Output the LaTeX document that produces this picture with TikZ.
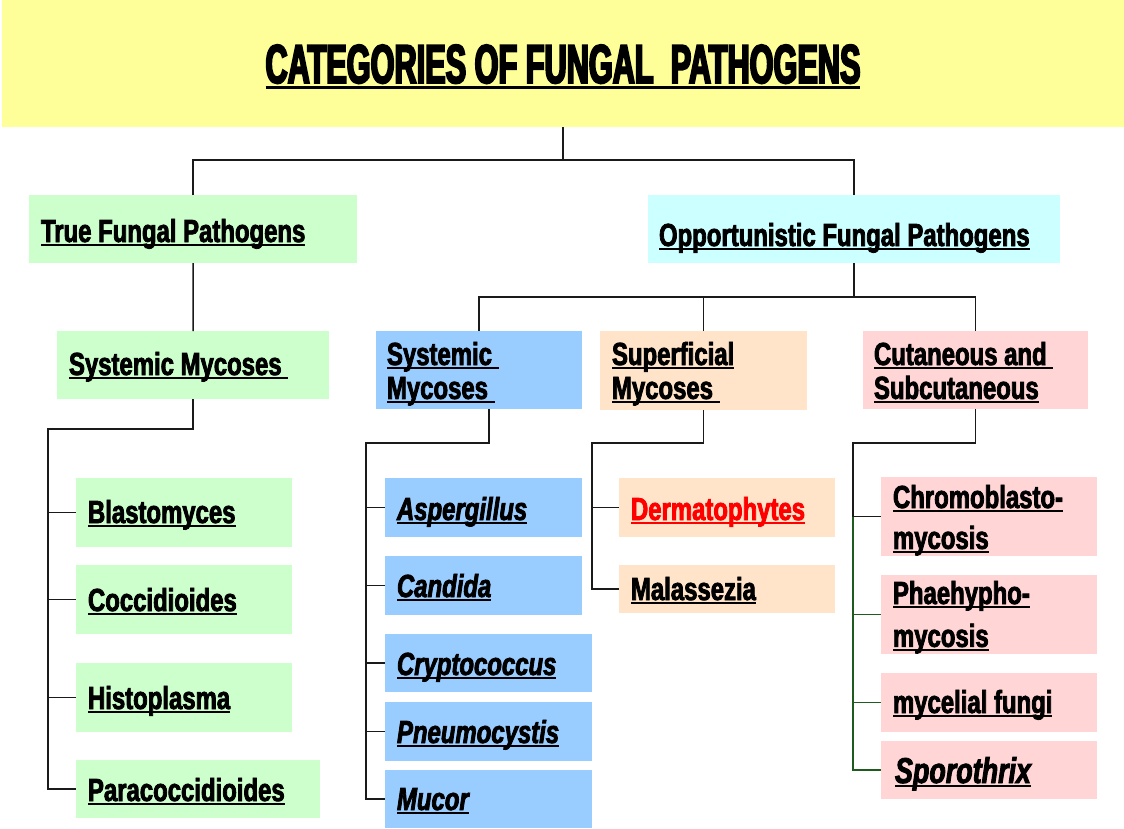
\documentclass[tikz,border=0pt]{standalone}
\usepackage{fontspec}
\newfontfamily\bodyf{Liberation Sans Bold}[FakeStretch=0.75, FakeBold=2.5, ItalicFont={Liberation Sans Bold Italic}]
\newfontfamily\titlef{Liberation Sans Bold}[FakeStretch=0.56, FakeBold=3.5]

\definecolor{titleyellow}{HTML}{FFFF99}
\definecolor{palegreen}{HTML}{CCFFCC}
\definecolor{palecyan}{HTML}{CCFFFF}
\definecolor{skyblue}{HTML}{99CCFF}
\definecolor{peach}{HTML}{FFE4C9}
\definecolor{rosepink}{HTML}{FFD5D5}
\definecolor{linegray}{HTML}{1A1A1A}
\definecolor{treegreen}{HTML}{1F5A1F}
\definecolor{alertred}{HTML}{FF0000}

% underlined text: rule under the whole box, trailing spaces included
\newcommand\ulin[1]{\setbox0=\hbox{\spaceskip=0pt\xspaceskip=0pt #1}\leavevmode\rlap{\rule[-4.2bp]{\wd0}{2bp}}\box0}
\newcommand\ulinT[1]{\setbox0=\hbox{\spaceskip=0pt\xspaceskip=0pt #1}\leavevmode\rlap{\rule[-5.8bp]{\wd0}{2.8bp}}\box0}

\begin{document}
\begin{tikzpicture}[x=1bp,y=-1bp,
  conn/.style={line width=1.5bp, draw=linegray},
  gconn/.style={line width=1.5bp, draw=treegreen},
  cell/.style={rectangle, inner sep=0pt, outer sep=0pt, anchor=north west, draw=none},
  txt/.style={inner sep=0pt, outer sep=0pt, anchor=base west, font=\bodyf\fontsize{32}{34}\selectfont},
  txtml/.style={txt, text width=230bp, align=left},
]
\useasboundingbox (0,0) rectangle (1124,829);

% title band
\node[cell, fill=titleyellow, minimum width=1122bp, minimum height=127bp] (title) at (2,0) {};
\node[inner sep=0pt, anchor=base, font=\titlef\fontsize{55}{60}\selectfont] (title-t) at (563,83)
  {\ulinT{CATEGORIES OF FUNGAL\ \ PATHOGENS}};

% first level
\node[cell, fill=palegreen, minimum width=328bp, minimum height=68bp] (tfp) at (29,195) {};
\node[txt] (tfp-t) at (41,242) {\ulin{True Fungal Pathogens}};
\node[cell, fill=palecyan, minimum width=412bp, minimum height=68bp] (ofp) at (648,195) {};
\node[txt] (ofp-t) at (659,246) {\ulin{Opportunistic Fungal Pathogens}};

% second level
\node[cell, fill=palegreen, minimum width=272bp, minimum height=68bp] (lsm) at (57,331) {};
\node[txt] (lsm-t) at (69,375) {\ulin{Systemic Mycoses\ }};
\node[cell, fill=skyblue, minimum width=206bp, minimum height=78bp] (bsm) at (376,331) {};
\node[txtml] (bsm-t) at (387,365) {\ulin{Systemic\ }\\\ulin{Mycoses\ }};
\node[cell, fill=peach, minimum width=207bp, minimum height=79bp] (sup) at (600,331) {};
\node[txtml] (sup-t) at (612,365) {\ulin{Superficial}\\\ulin{Mycoses\ }};
\node[cell, fill=rosepink, minimum width=225bp, minimum height=78bp] (cut) at (863,331) {};
\node[txtml] (cut-t) at (874,365) {\ulin{Cutaneous and\ }\\\ulin{Subcutaneous}};

% true pathogens
\node[cell, fill=palegreen, minimum width=216bp, minimum height=69bp] (blasto) at (76,478) {};
\node[txt] (blasto-t) at (88,523) {\ulin{Blastomyces}};
\node[cell, fill=palegreen, minimum width=216bp, minimum height=69bp] (cocci) at (76,565) {};
\node[txt] (cocci-t) at (88,611) {\ulin{Coccidioides}};
\node[cell, fill=palegreen, minimum width=216bp, minimum height=69bp] (histo) at (76,663) {};
\node[txt] (histo-t) at (88,709) {\ulin{Histoplasma}};
\node[cell, fill=palegreen, minimum width=244bp, minimum height=58bp] (para) at (76,760) {};
\node[txt] (para-t) at (88,801) {\ulin{Paracoccidioides}};

% opportunistic systemic
\node[cell, fill=skyblue, minimum width=197bp, minimum height=59bp] (asp) at (385,478) {};
\node[txt] (asp-t) at (397,520) {\ulin{\itshape Aspergillus}};
\node[cell, fill=skyblue, minimum width=197bp, minimum height=59bp] (cand) at (385,556) {};
\node[txt] (cand-t) at (397,597) {\ulin{\itshape Candida}};
\node[cell, fill=skyblue, minimum width=207bp, minimum height=58bp] (crypto) at (385,634) {};
\node[txt] (crypto-t) at (397,675) {\ulin{\itshape Cryptococcus}};
\node[cell, fill=skyblue, minimum width=207bp, minimum height=59bp] (pneumo) at (385,702) {};
\node[txt] (pneumo-t) at (397,743) {\ulin{\itshape Pneumocystis}};
\node[cell, fill=skyblue, minimum width=207bp, minimum height=58bp] (mucor) at (385,770) {};
\node[txt] (mucor-t) at (397,810) {\ulin{\itshape Mucor}};

% superficial
\node[cell, fill=peach, minimum width=216bp, minimum height=59bp] (derm) at (619,478) {};
\node[txt, text=alertred] (derm-t) at (631,520) {\ulin{Dermatophytes}};
\node[cell, fill=peach, minimum width=216bp, minimum height=48bp] (mal) at (619,565) {};
\node[txt] (mal-t) at (631,600) {\ulin{Malassezia}};

% cutaneous and subcutaneous
\node[cell, fill=rosepink, minimum width=216bp, minimum height=79bp] (chromo) at (881,477) {};
\node[txtml, font=\bodyf\fontsize{32}{41}\selectfont] (chromo-t) at (893,508) {\ulin{Chromoblasto-}\\\ulin{mycosis}};
\node[cell, fill=rosepink, minimum width=216bp, minimum height=79bp] (phaeo) at (881,575) {};
\node[txtml, font=\bodyf\fontsize{32}{43}\selectfont] (phaeo-t) at (893,604) {\ulin{Phaehypho-}\\\ulin{mycosis}};
\node[cell, fill=rosepink, minimum width=216bp, minimum height=59bp] (myc) at (881,673) {};
\node[txt] (myc-t) at (893,713) {\ulin{mycelial fungi}};
\node[cell, fill=rosepink, minimum width=216bp, minimum height=58bp] (sporo) at (881,741) {};
\node[txt, font=\bodyf\fontsize{36}{40}\selectfont] (sporo-t) at (895,783) {\ulin{\itshape Sporothrix}};

% connectors: top split
\draw[conn] (title.south) -- ++(0,33) coordinate (j0);
\draw[conn] (tfp.north) |- (j0) -| (ofp.north);
\draw[conn] (tfp.south) -- (lsm.north);

% true pathogens trunk
\coordinate (lt) at (48,429);
\draw[conn] (lsm.south) |- (lt) -- (lt |- para.west) -- (para.west);
\foreach \n in {blasto,cocci,histo} \draw[conn] (lt |- \n.west) -- (\n.west);

% opportunistic split
\draw[conn] (ofp.south) -- ++(0,34) coordinate (j1);
\draw[conn] (bsm.north) |- (j1) -| (cut.north);
\draw[conn] (sup.north) -- (sup.north |- j1);

% opportunistic systemic trunk
\coordinate (bt) at (366,443);
\draw[conn] ([xshift=10bp]bsm.south) |- (bt) -- (bt |- mucor.west) -- (mucor.west);
\foreach \n in {asp,cand,crypto,pneumo} \draw[conn] (bt |- \n.west) -- (\n.west);

% superficial trunk
\coordinate (st) at (592,443);
\draw[conn] (sup.south) |- (st) -- (st |- mal.west) -- (mal.west);
\draw[conn] (st |- derm.west) -- (derm.west);

% cutaneous trunk
\coordinate (ct) at (853,443);
\draw[conn] (cut.south) |- (ct) -- (ct |- chromo.west) -- (chromo.west);
\draw[gconn] (ct |- chromo.west) -- (ct |- sporo.west) -- (sporo.west);
\foreach \n in {phaeo,myc} \draw[gconn] (ct |- \n.west) -- (\n.west);
\end{tikzpicture}
\end{document}
